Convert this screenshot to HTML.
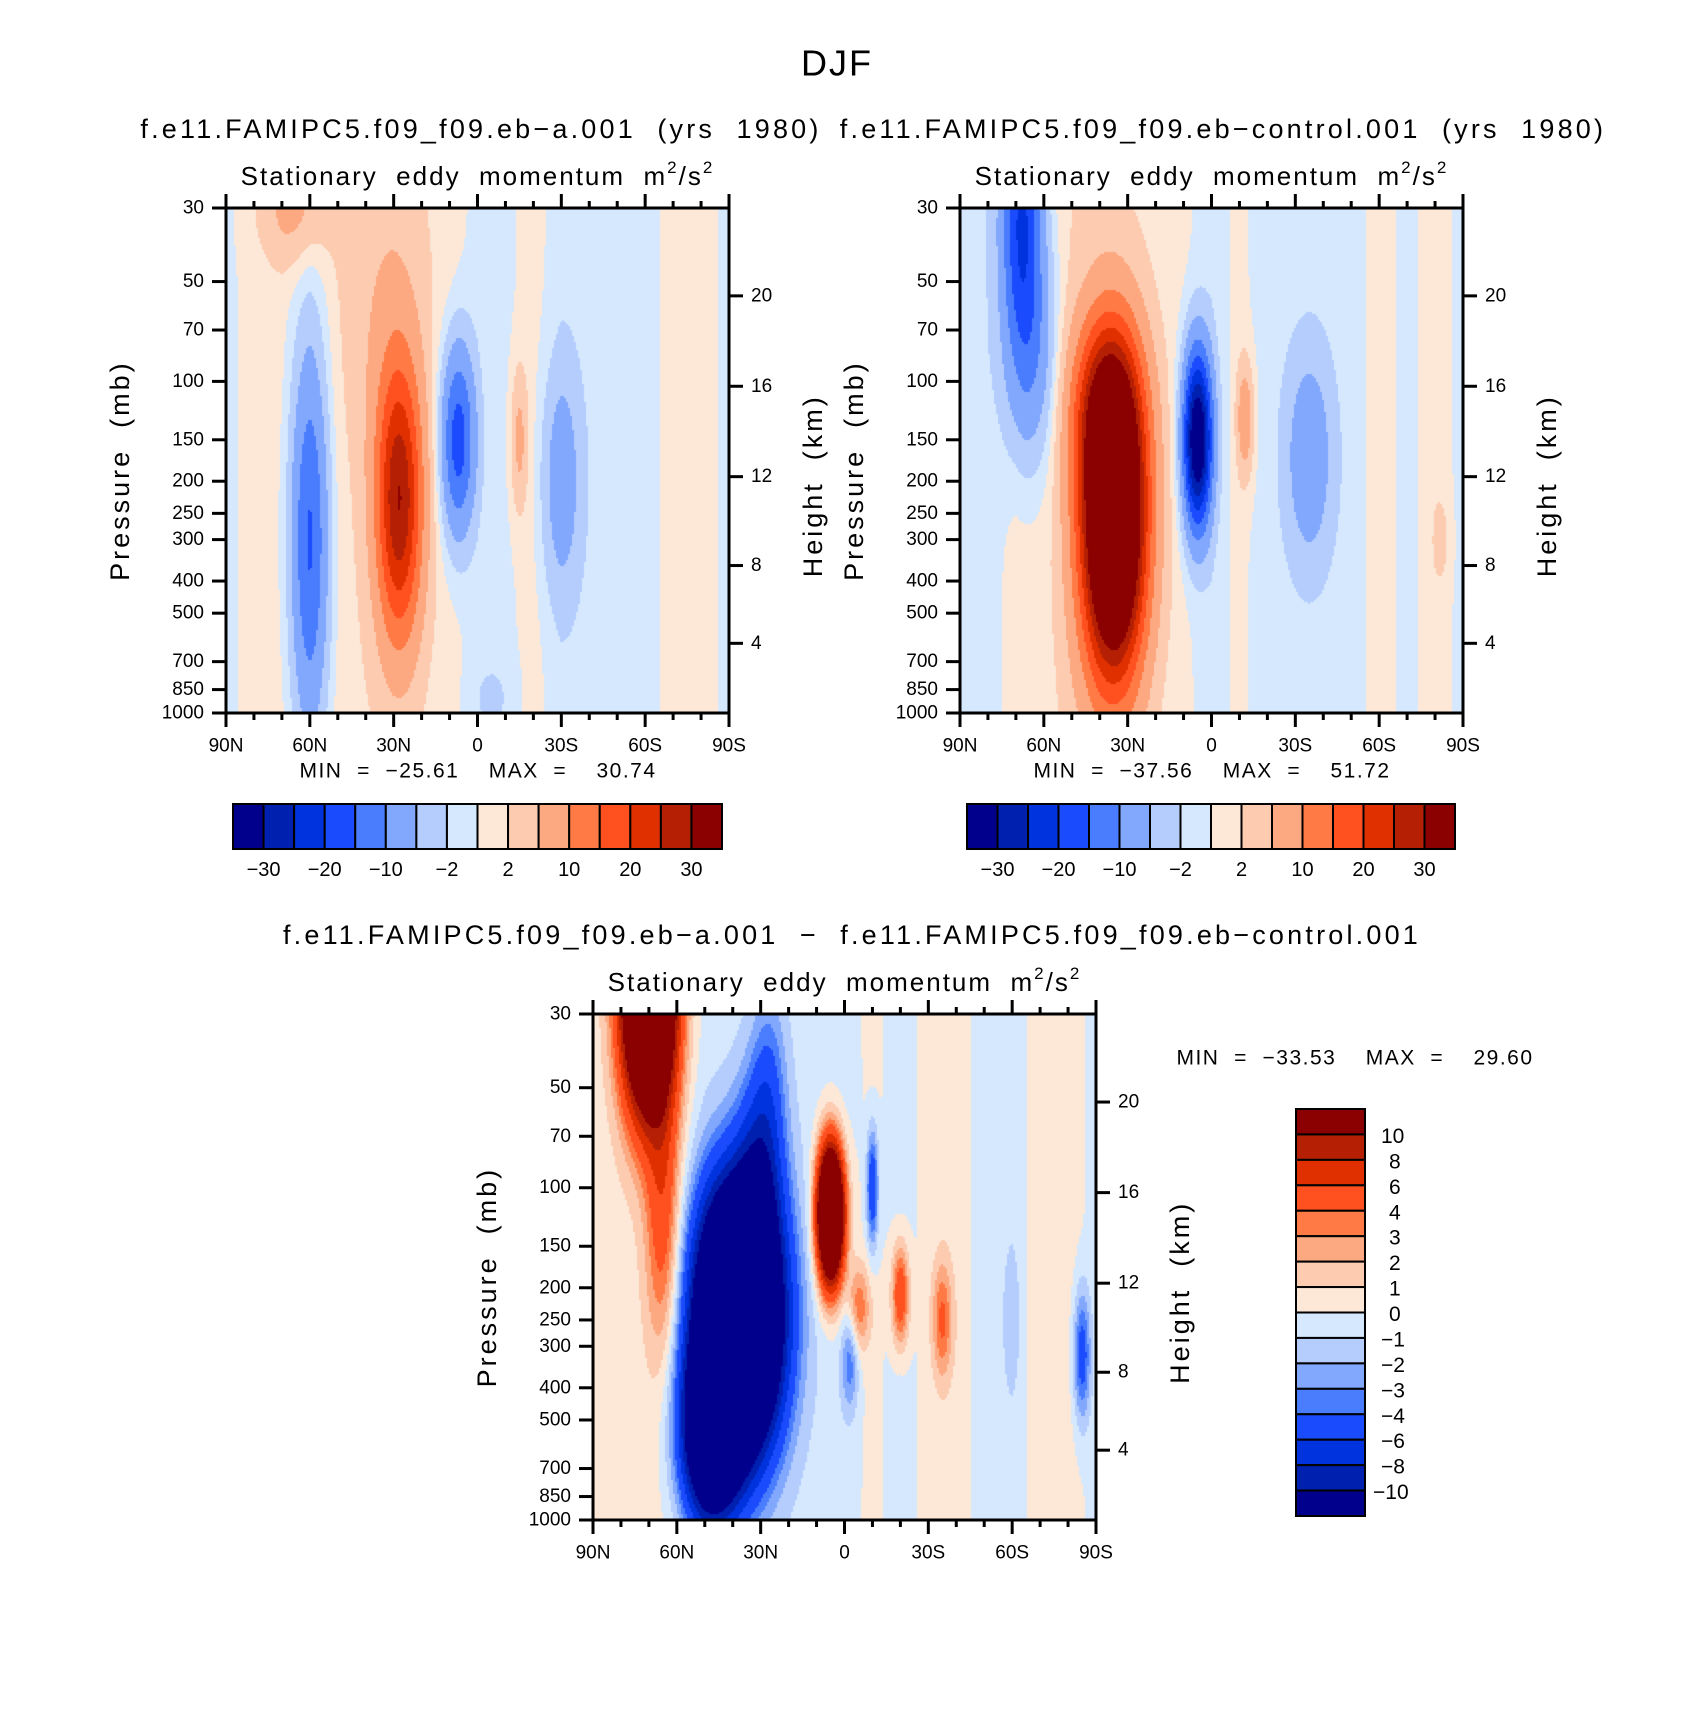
<!DOCTYPE html>
<html><head><meta charset="utf-8"><style>
html,body{margin:0;padding:0;background:#fff;}
#root{position:relative;width:1694px;height:1725px;overflow:hidden;font-family:"Liberation Sans",sans-serif;}
canvas{position:absolute;}
svg{position:absolute;left:0;top:0;}
svg text{white-space:pre;}
</style></head><body>
<div id="root">
<canvas id="c1" style="left:226px;top:208px" width="503" height="505"></canvas>
<canvas id="c2" style="left:960px;top:208px" width="503" height="505"></canvas>
<canvas id="c3" style="left:593px;top:1014px" width="503" height="506"></canvas>
<svg id="s" width="1694" height="1725"></svg>
</div>
<script>
// ---- data ----
const latTicks = [90,60,30,0,-30,-60,-90];
const latTickLabels = ["90N","60N","30N","0","30S","60S","90S"];
const presTicks = [30,50,70,100,150,200,250,300,400,500,700,850,1000];
const heightTicks = [20,16,12,8,4];
const heightFrac = [0.174,0.353,0.532,0.708,0.862];
const levelsAbs = [-30,-25,-20,-15,-10,-5,-2,0,2,5,10,15,20,25,30];
const levelsAbsLabels = ["-30","","-20","","-10","","-2","","2","","10","","20","","30"];
const levelsDiff = [-10,-8,-6,-4,-3,-2,-1,0,1,2,3,4,6,8,10];
const colors = ["#00008c","#0020b0","#0032dd","#1a4bfd","#4a7dfd","#82a8fd","#b4cdfd","#d5e8fd","#fde8d8","#fccbb0","#fca982","#ff7a45","#ff5020","#e03000","#b52005","#8b0000"];
const baseLats = [90,80,70,60,50,40,30,20,10,0,-10,-20,-30,-40,-50,-60,-70,-80,-90];
const base1 = [-0.5,0.6,0.8,-0.5,1.2,1.5,1.5,1.2,0.8,-0.5,-0.5,0.8,-1,-1,-1,-1,0.8,0.8,-0.5];
const base2 = [-1,-1,1,1,2,2,1.5,1,0.5,-1,0.5,-1,-1,-1,-1,0.8,-0.5,0.8,-0.5];
const base3 = [0.3,0.5,0.5,0.3,-0.5,-0.5,-0.5,-0.5,-0.5,-0.5,0.3,-0.5,0.3,0.5,-0.5,-0.5,0.5,0.5,-0.3];
// blob centres (lat, pressure), amplitudes, widths
const b1Lat=[60,28,7,-15,-30,65,33,-5];
const b1P=[300,230,150,150,200,30,60,900];
const b1Amp=[-15,28,-18,6,-7,6,3,-2];
const b1WL=[6.5,8,6,3,7,12,15,8];
const b1WP=[1.25,0.95,0.65,0.5,0.8,0.4,1.2,0.3];
const b2Lat=[68,65,35,38,5,-12,-35,-82];
const b2P=[30,80,260,120,150,130,170,300];
const b2Amp=[-20,-10,60,15,-38,8,-8,3];
const b2WL=[7,9,11,12,5,3,8,3];
const b2WP=[0.9,0.8,1.05,0.6,0.6,0.4,0.7,0.3];
const b3Lat=[70,65,38,48,30,27,5,-10,-20,-35,-5,-2,-85,-60];
const b3P=[25,120,250,550,90,45,120,100,210,250,230,330,320,250];
const b3Amp=[32,5,-38,-18,-6,-2.5,30,-6,6,4,4,-3.5,-5,-1.5];
const b3WL=[9,6,14,10,8,6,4.5,2,3,3.5,4,3,3,3];
const b3WP=[0.8,1,0.85,0.6,0.7,0.6,0.45,0.4,0.35,0.4,0.3,0.35,0.45,0.5];

const L30=Math.log(30),L1000=Math.log(1000);
function field(lat,p,base,bl,bp,ba,bwl,bwp){
  let i=Math.min(17,Math.max(0,Math.floor((90-lat)/10)));
  let t=(90-lat)/10-i;
  let v=base[i]*(1-t)+base[i+1]*t;
  const lp=Math.log(p);
  for(let k=0;k<bl.length;k++){
    const dx=(lat-bl[k])/bwl[k], dy=(lp-Math.log(bp[k]))/bwp[k];
    v+=ba[k]*Math.exp(-(dx*dx+dy*dy));
  }
  return v;
}
function drawField(id,base,bl,bp,ba,bwl,bwp,levels){
  const c=document.getElementById(id),ctx=c.getContext('2d');
  const W=c.width,H=c.height,s=2;
  for(let y=0;y<H;y+=s){
    const p=Math.exp(L30+(y+s/2)/H*(L1000-L30));
    for(let x=0;x<W;x+=s){
      const lat=90-(x+s/2)/W*180;
      const v=field(lat,p,base,bl,bp,ba,bwl,bwp);
      let idx=0;while(idx<levels.length&&v>levels[idx])idx++;
      ctx.fillStyle=colors[idx];ctx.fillRect(x,y,s,s);
    }
  }
}
drawField('c1',base1,b1Lat,b1P,b1Amp,b1WL,b1WP,levelsAbs);
drawField('c2',base2,b2Lat,b2P,b2Amp,b2WL,b2WP,levelsAbs);
drawField('c3',base3,b3Lat,b3P,b3Amp,b3WL,b3WP,levelsDiff);

const S=document.getElementById('s'),NS='http://www.w3.org/2000/svg';
function el(tag,attrs,parent){const e=document.createElementNS(NS,tag);for(const k in attrs)e.setAttribute(k,attrs[k]);(parent||S).appendChild(e);return e;}
function txt(x,y,str,size,anchor,name,rot,ls){
  const t=el('text',{x:x,y:y,'font-size':size,'text-anchor':anchor||'middle','dominant-baseline':'central',fill:'#000'});
  if(ls)t.setAttribute('letter-spacing',ls);
  if(rot)t.setAttribute('transform','rotate(-90 '+x+' '+y+')');
  t.textContent=str;
  
  
  return t;
}
function drawAxes(L,T,W,H,tag){
  const g=el('g',{});
  
  
  el('rect',{x:L,y:T,width:W,height:H,fill:'none',stroke:'#000','stroke-width':3},g);
  const lx=lat=>L+(90-lat)/180*W;
  for(let lat=90;lat>=-90;lat-=10){
    const major=lat%30===0,len=major?14:7;
    el('line',{x1:lx(lat),x2:lx(lat),y1:T+H,y2:T+H+len,stroke:'#000','stroke-width':3},g);
    el('line',{x1:lx(lat),x2:lx(lat),y1:T,y2:T-len,stroke:'#000','stroke-width':3},g);
  }
  latTicks.forEach((lat,i)=>txt(lx(lat),T+H+33,latTickLabels[i],19,'middle',tag+'-x-tick-label'));
  const py=p=>T+(Math.log(p)-L30)/(L1000-L30)*H;
  presTicks.forEach(p=>{
    el('line',{x1:L-14,x2:L,y1:py(p),y2:py(p),stroke:'#000','stroke-width':3},g);
    txt(L-22,py(p),String(p),19,'end',tag+'-y-tick-label');
  });
  heightTicks.forEach((h,i)=>{
    const y=T+heightFrac[i]*H;
    el('line',{x1:L+W,x2:L+W+14,y1:y,y2:y,stroke:'#000','stroke-width':3},g);
    txt(L+W+22,y,String(h),19,'start',tag+'-height-tick-label');
  });
  txt(L-106,T+H*0.52,'Pressure  (mb)',27,'middle',tag+'-y-axis-title',true,3);
  txt(L+W+84,T+H*0.55,'Height  (km)',27,'middle',tag+'-height-axis-title',true,3);
  const st=txt(L+W/2,T-32,'',26,'middle',tag+'-subtitle',false,2);
  st.innerHTML='Stationary  eddy  momentum  m<tspan font-size="17" dy="-9">2</tspan><tspan dy="9">/s</tspan><tspan font-size="17" dy="-9">2</tspan>';
}
function hbar(L,T,W,H,levels,labels,tag){
  const n=colors.length,bw=W/n;
  for(let i=0;i<n;i++){
    const r=el('rect',{x:L+i*bw,y:T,width:bw,height:H,fill:colors[i],stroke:'#000','stroke-width':2});
    
    
  }
  levels.forEach((v,i)=>{if(labels[i])txt(L+(i+1)*bw,T+H+21,labels[i].replace('-','\u2212'),20,'middle',tag+'-colorbar-label');});
}
function vbar(L,T,W,H,levels,tag){
  const n=colors.length,bh=H/n;
  for(let i=0;i<n;i++){
    const r=el('rect',{x:L,y:T+i*bh,width:W,height:bh,fill:colors[n-1-i],stroke:'#000','stroke-width':2});
    
    
  }
  for(let i=0;i<levels.length;i++){
    const v=levels[levels.length-1-i];
    const s=String(Math.abs(v));
    let off;
    if(v<0) off = s.length>1?8:16; else off = s.length>1?16:24;
    txt(L+W+off,T+(i+1)*bh+2,(v<0?'\u2212':'')+s,21,'start',tag+'-colorbar-label');
  }
}
txt(837,63,'DJF',36,'middle','figure-title',false,2);
txt(481,129,'f.e11.FAMIPC5.f09_f09.eb\u2212a.001  (yrs  1980)',27,'middle','panel1-title',false,3.2);
txt(1223,129,'f.e11.FAMIPC5.f09_f09.eb\u2212control.001  (yrs  1980)',27,'middle','panel2-title',false,3.2);
drawAxes(226,208,503,505,'panel1');
drawAxes(960,208,503,505,'panel2');
txt(478,771,'MIN  =  \u221225.61    MAX  =    30.74',21,'middle','panel1-min-max',false,1.5);
txt(1212,771,'MIN  =  \u221237.56    MAX  =    51.72',21,'middle','panel2-min-max',false,1.5);
hbar(233,804,489,45,levelsAbs,levelsAbsLabels,'panel1');
hbar(967,804,488,45,levelsAbs,levelsAbsLabels,'panel2');
txt(852,935,'f.e11.FAMIPC5.f09_f09.eb\u2212a.001  \u2212  f.e11.FAMIPC5.f09_f09.eb\u2212control.001',27,'middle','panel3-title',false,3.2);
drawAxes(593,1014,503,506,'panel3');
txt(1355,1058,'MIN  =  \u221233.53    MAX  =    29.60',21,'middle','panel3-min-max',false,1.5);
vbar(1296,1109,69,407,levelsDiff,'panel3');
</script>
</body></html>
